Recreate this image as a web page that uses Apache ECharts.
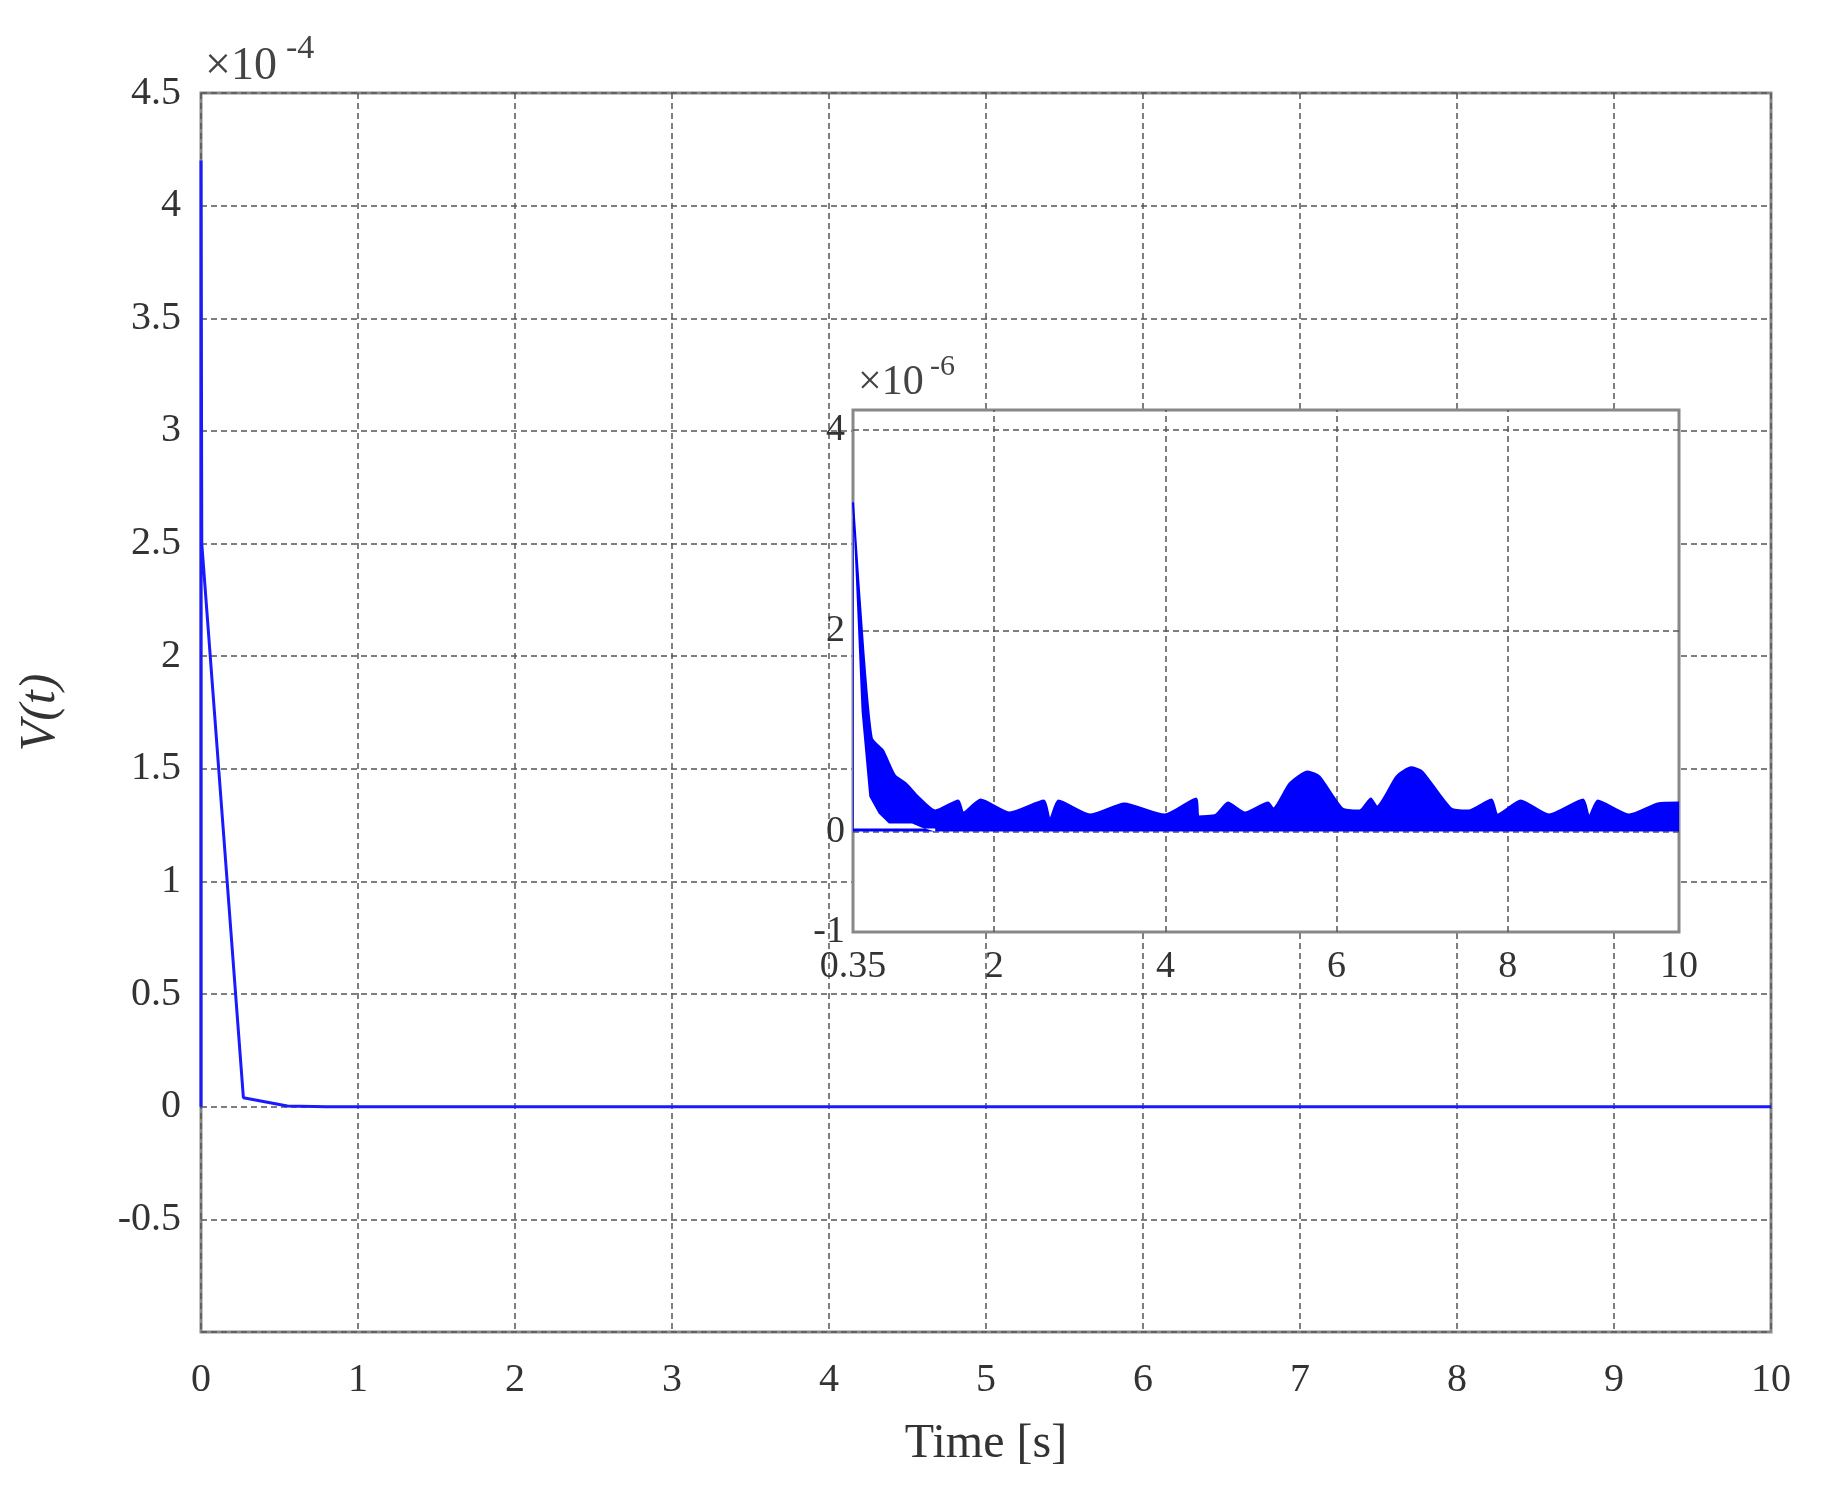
<!DOCTYPE html>
<html><head><meta charset="utf-8">
<script src="https://cdn.jsdelivr.net/npm/echarts@6/dist/echarts.min.js"></script>
<style>html,body{margin:0;background:#fff}#c{width:1822px;height:1495px}</style>
</head><body><div id="c"></div>
<script>
// Main curve, V(t) in units of 1e-4
const mainT = [0, 0, 0.005, 0.27, 0.55, 0.8, 10];
const mainV = [0, 4.2, 2.5, 0.04, 0.003, 0.0, 0.0];
// Inset band upper envelope, units of 1e-6
const insetT = [0.35,0.47,0.57,0.70,0.84,0.97,1.11,1.31,1.58,1.64,1.84,2.18,2.58,2.65,2.75,3.12,3.52,3.99,4.36,4.39,4.59,4.73,4.93,5.20,5.26,5.45,5.66,5.80,6.07,6.27,6.40,6.47,6.70,6.87,7.0,7.34,7.54,7.81,7.88,8.15,8.48,8.88,8.95,9.05,9.42,9.75,10];
const insetUpper = [3.28,1.81,0.93,0.81,0.56,0.48,0.35,0.21,0.31,0.19,0.32,0.19,0.31,0.12,0.31,0.17,0.28,0.17,0.33,0.15,0.17,0.29,0.19,0.29,0.23,0.48,0.60,0.55,0.23,0.21,0.33,0.25,0.55,0.64,0.60,0.23,0.21,0.32,0.17,0.31,0.17,0.32,0.15,0.31,0.17,0.28,0.29];
// lower edge of the band (gap below it near the start)
const lowerT = [0.36,0.45,0.54,0.65,0.77,1.04,1.15,1.31];
const lowerV = [3.0,1.2,0.35,0.18,0.08,0.08,0.04,0];
const insetXTicks = [0.35,2,4,6,8,10];
const insetYTicks = [-1,0,2,4];
const insetGridX = [2,4,6,8];
const insetGridY = [0,2,4];

const font = '"Liberation Serif", serif';
const dash = {color:'#555', type:[6,4], width:1.5};
const chart = echarts.init(document.getElementById('c'));
chart.setOption({
  animation:false,
  grid:[
    {left:201, right:51, top:93, bottom:163, show:true, borderColor:'#888', borderWidth:3, backgroundColor:'#fff'},
    {left:853, right:143, top:410, bottom:563, show:true, borderColor:'#888', borderWidth:3, backgroundColor:'#fff', z:5}
  ],
  xAxis:[
    {gridIndex:0, type:'value', min:0, max:10, interval:1,
     name:'Time [s]', nameLocation:'middle', nameGap:88, nameTextStyle:{fontFamily:font, fontSize:48, color:'#333'},
     axisLine:{show:false}, axisTick:{show:false},
     axisLabel:{fontFamily:font, fontSize:40, color:'#333', margin:28},
     splitLine:{show:true, lineStyle:dash}},
    {gridIndex:1, type:'value', min:0.35, max:10, z:6,
     axisLine:{show:false}, axisTick:{show:false},
     axisLabel:{customValues:insetXTicks, fontFamily:font, fontSize:38, color:'#333', margin:16,
       formatter:v=>String(v)},
     splitLine:{show:false}}
  ],
  yAxis:[
    {gridIndex:0, type:'value', min:-1, max:4.5, interval:0.5,
     name:'V(t)', nameLocation:'middle', nameGap:135, nameRotate:90,
     nameTextStyle:{fontFamily:font, fontSize:50, fontStyle:'italic', color:'#333'},
     axisLine:{show:false}, axisTick:{show:false},
     axisLabel:{fontFamily:font, fontSize:40, color:'#333', margin:20, formatter:v=>v===-1?'':String(v)},
     splitLine:{show:true, lineStyle:dash}},
    {gridIndex:1, type:'value', min:-1, max:4.2, z:6,
     axisLine:{show:false}, axisTick:{show:false},
     axisLabel:{customValues:insetYTicks, fontFamily:font, fontSize:38, color:'#333', margin:8, formatter:v=>String(v)},
     splitLine:{show:false}}
  ],
  series:[
    {type:'line', xAxisIndex:0, yAxisIndex:0, data:mainT.map((t,i)=>[t,mainV[i]]),
     showSymbol:false, lineStyle:{color:'#1a1aff', width:3}, z:3},
    {type:'line', xAxisIndex:1, yAxisIndex:1, data:[], z:6,
     markLine:{silent:true, symbol:'none', label:{show:false}, lineStyle:dash,
       data:insetGridY.map(v=>({yAxis:v})).concat(insetGridX.map(v=>({xAxis:v})))}},
    {type:'line', xAxisIndex:1, yAxisIndex:1, data:insetT.map((t,i)=>[t,insetUpper[i]]), showSymbol:false, smooth:0.2,
     lineStyle:{color:'#0000ff', width:2}, areaStyle:{color:'#0000ff', opacity:1, origin:0}, z:7},
    {type:'line', xAxisIndex:1, yAxisIndex:1, data:lowerT.map((t,i)=>[t,lowerV[i]]), showSymbol:false,
     lineStyle:{width:0}, areaStyle:{color:'#fff', opacity:1, origin:0.03}, z:8}
  ],
  graphic:[
    {type:'text', left:205, top:44, z:100, style:{text:'×10', font:'46px '+font, fill:'#444'}},
    {type:'text', left:286, top:32, z:100, style:{text:'-4', font:'34px '+font, fill:'#444'}},
    {type:'text', left:858, top:362, z:100, style:{text:'×10', font:'42px '+font, fill:'#444'}},
    {type:'text', left:930, top:352, z:100, style:{text:'-6', font:'30px '+font, fill:'#444'}}
  ]
});
</script></body></html>
